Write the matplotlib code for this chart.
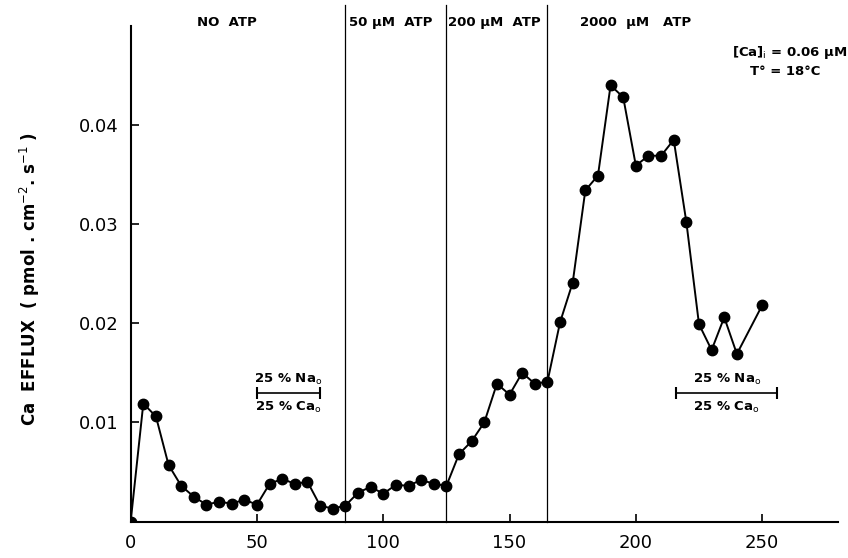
import numpy as np
import matplotlib.pyplot as plt

# time (min) and Ca efflux (pmol cm-2 s-1)
time = [0, 5, 10, 15, 20, 25, 30, 35, 40, 45, 50, 55, 60, 65, 70, 75, 80, 85,
        90, 95, 100, 105, 110, 115, 120, 125,
        130, 135, 140, 145, 150, 155, 160, 165,
        170, 175, 180, 185, 190, 195, 200, 205, 210, 215, 220, 225, 230, 235, 240, 250]
efflux = [0.0, 0.0119, 0.0106, 0.0057, 0.0036, 0.0025, 0.0017, 0.0020, 0.0018, 0.0022,
          0.0017, 0.0038, 0.0043, 0.0038, 0.0040, 0.0016, 0.0013, 0.0016,
          0.0029, 0.0035, 0.0028, 0.0037, 0.0036, 0.0042, 0.0038, 0.0036,
          0.0068, 0.0081, 0.0100, 0.0139, 0.0128, 0.0150, 0.0139, 0.0141,
          0.0201, 0.0241, 0.0334, 0.0349, 0.0440, 0.0428, 0.0359, 0.0369, 0.0369,
          0.0385, 0.0302, 0.0199, 0.0173, 0.0206, 0.0169, 0.0218]

# ATP periods
boundaries = [85, 125, 165]
period_labels = ["NO  ATP", "50 µM  ATP", "200 µM  ATP", "2000  µM   ATP"]
period_centers = [38, 103, 144, 200]

# solution change bars (start, end)
solution_bars = [(50, 75), (216, 256)]

fig = plt.figure(figsize=(8.48, 5.58), dpi=100)
ax = fig.add_axes([0.1541, 0.0654, 0.834, 0.9256])

ax.plot(time, efflux, color='black', lw=1.4, marker='o', markersize=7.5, zorder=3)

ytop = 0.0521
for b in boundaries:
    ax.plot([b, b], [0, ytop], color='black', lw=0.9, clip_on=False)

for lab, cx in zip(period_labels, period_centers):
    ax.text(cx, 0.0503, lab, ha='center', va='center', fontsize=9.5, fontweight='bold')

for x0, x1 in solution_bars:
    y = 0.0130
    ax.plot([x0, x1], [y, y], color='black', lw=1.2, marker='|', markersize=9, mew=1.5)
    xm = (x0 + x1) / 2
    ax.text(xm, y + 0.0013, "25 % Na$_\\mathrm{o}$", ha='center', va='center',
            fontsize=9.5, fontweight='bold')
    ax.text(xm, y - 0.0015, "25 % Ca$_\\mathrm{o}$", ha='center', va='center',
            fontsize=9.5, fontweight='bold')

ax.text(261, 0.0473, "[Ca]$_\\mathrm{i}$ = 0.06 µM", ha='center', va='center',
        fontsize=9.5, fontweight='bold')
ax.text(259, 0.0454, "T° = 18°C", ha='center', va='center',
        fontsize=9.5, fontweight='bold')

ax.set_xlim(0, 280)
ax.set_ylim(0, ytop)
ax.set_xticks([0, 50, 100, 150, 200, 250])
ax.set_yticks([0.01, 0.02, 0.03, 0.04])
ax.set_yticklabels(["0.01", "0.02", "0.03", "0.04"])
ax.tick_params(direction='in', length=6, width=1.2, labelsize=13, pad=9)
ax.spines['top'].set_visible(False)
ax.spines['right'].set_visible(False)
ax.spines['left'].set_bounds(0, 0.05)
ax.spines['left'].set_linewidth(1.5)
ax.spines['bottom'].set_linewidth(1.5)

ax.set_ylabel("Ca  EFFLUX  ( pmol . cm$^{-2}$. s$^{-1}$ )", fontsize=12, fontweight='bold')
ax.yaxis.set_label_coords(-0.125, 0.47)

plt.savefig("out.png", dpi=100)
